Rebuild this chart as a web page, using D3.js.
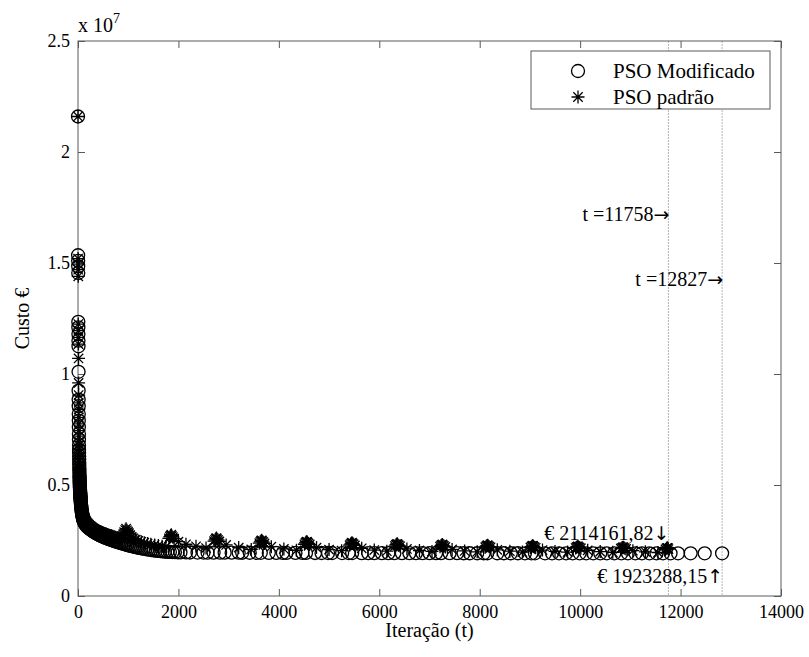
<!DOCTYPE html>
<html>
<head>
<meta charset="utf-8">
<script src="https://cdn.jsdelivr.net/npm/d3@7"></script>
<style>
  body { margin: 0; background: #fff; }
  text { font-family: "Liberation Serif", "Times New Roman", serif; fill: #000; }
</style>
</head>
<body>
<div id="chart"></div>
<script>
// custo em milhoes de euros (x 10^6)
const iterModificado = [0, 2, 3, 4, 5, 6, 7, 8, 9, 10, 11, 12, 13, 14, 15, 16, 17, 18, 19,
  20, 21, 22, 23, 24, 25, 26, 27, 28, 29, 30, 31, 32, 33, 34, 35, 36, 37, 38, 39,
  40, 41, 42, 43, 44, 45, 46, 47, 48, 49, 50, 52, 54, 56, 58, 60, 63, 65, 68, 71,
  74, 77, 80, 84, 87, 91, 95, 100, 105, 110, 115, 122, 130, 137, 145, 152, 160, 170, 180, 190,
  200, 212, 225, 237, 250, 265, 280, 295, 310, 325, 340, 357, 375, 392, 410, 430, 450, 470, 490, 510,
  530, 552, 575, 597, 620, 645, 670, 695, 720, 747, 775, 802, 830, 860, 890, 920, 950, 980, 1010, 1045,
  1080, 1115, 1150, 1185, 1220, 1260, 1300, 1340, 1380, 1420, 1460, 1505, 1550, 1595, 1640, 1685, 1730, 1780, 1830, 1880,
  1930, 1985, 2040, 2150, 2230, 2380, 2500, 2580, 2700, 2830, 2920, 3060, 3200, 3270, 3420, 3560, 3640, 3800, 3950,
  4080, 4150, 4330, 4470, 4540, 4720, 4850, 4980, 5060, 5260, 5390, 5460, 5650, 5780, 5900, 6050, 6180, 6300, 6450, 6600,
  6730, 6860, 7000, 7130, 7230, 7400, 7550, 7680, 7800, 7950, 8080, 8150, 8350, 8480, 8620, 8760, 8900, 9030, 9100, 9300,
  9440, 9580, 9720, 9850, 9990, 10120, 10260, 10400, 10530, 10680, 10820, 10950, 11100, 11230, 11380, 11520, 11650, 11800, 11950, 12200,
  12480, 12827];
const custoModificado = [21.6, 15.35, 15.1, 14.85, 14.55, 12.35, 12.1, 11.8, 11.5, 11.25, 10.1, 9.25, 8.85, 8.55, 8.2, 7.9, 7.6, 7.3, 7.05,
  6.8, 6.6, 6.45, 6.3, 6.15, 6.0, 5.88, 5.76, 5.65, 5.55, 5.45, 5.37, 5.3, 5.22, 5.15, 5.08, 5.02, 4.96, 4.9, 4.85,
  4.8, 4.75, 4.7, 4.66, 4.62, 4.58, 4.54, 4.5, 4.47, 4.43, 4.4, 4.34, 4.28, 4.22, 4.16, 4.11, 4.04, 4.0, 3.93, 3.87,
  3.82, 3.77, 3.72, 3.67, 3.62, 3.58, 3.53, 3.48, 3.44, 3.4, 3.37, 3.33, 3.3, 3.27, 3.24, 3.21, 3.19, 3.16, 3.14, 3.11,
  3.09, 3.06, 3.04, 3.02, 3.0, 2.97, 2.95, 2.92, 2.9, 2.88, 2.86, 2.83, 2.81, 2.79, 2.77, 2.74, 2.72, 2.7, 2.68, 2.66,
  2.64, 2.62, 2.6, 2.58, 2.56, 2.54, 2.52, 2.5, 2.48, 2.46, 2.44, 2.42, 2.4, 2.38, 2.36, 2.34, 2.32, 2.3, 2.28, 2.26,
  2.24, 2.22, 2.2, 2.185, 2.17, 2.15, 2.13, 2.115, 2.1, 2.085, 2.07, 2.055, 2.04, 2.03, 2.02, 2.01, 2.0, 1.99, 1.985, 1.98,
  1.975, 1.97, 1.965, 1.962, 1.96, 1.958, 1.957, 1.955, 1.954, 1.953, 1.952, 1.951, 1.95, 1.949, 1.948, 1.947, 1.946, 1.945, 1.944,
  1.943, 1.942, 1.941, 1.94, 1.939, 1.938, 1.937, 1.937, 1.936, 1.935, 1.934, 1.934, 1.933, 1.932, 1.932, 1.931, 1.931, 1.93, 1.93, 1.929,
  1.929, 1.928, 1.928, 1.928, 1.927, 1.927, 1.927, 1.926, 1.926, 1.926, 1.926, 1.925, 1.925, 1.925, 1.925, 1.925, 1.924, 1.924, 1.924, 1.924,
  1.924, 1.924, 1.924, 1.924, 1.9235, 1.9235, 1.9235, 1.9234, 1.9234, 1.9234, 1.9234, 1.9234, 1.9233, 1.9233, 1.9233, 1.9233, 1.9233, 1.9233, 1.9233, 1.9233,
  1.9233, 1.92328815];

const iterPadrao = [0, 2, 3, 4, 5, 6, 7, 8, 9, 11, 12, 13, 14, 15, 16, 17, 18, 19,
  20, 21, 22, 23, 24, 25, 26, 27, 28, 29, 30, 31, 33, 34, 36, 38, 40, 42, 44, 46,
  48, 50, 53, 55, 58, 61, 64, 67, 70, 73, 77, 81, 85, 89, 94, 99, 104, 110, 115, 121,
  128, 135, 142, 150, 158, 166, 175, 185, 195, 207, 220, 232, 245, 260, 275, 290, 305, 322, 340, 360,
  380, 400, 420, 443, 465, 487, 510, 535, 560, 585, 610, 637, 665, 692, 720, 750, 780, 810, 840, 870,
  900, 920, 940, 958, 975, 995, 1015, 1040, 1070, 1100, 1150, 1200, 1260, 1320, 1385, 1450, 1525, 1600, 1675, 1750,
  1810, 1830, 1845, 1858, 1870, 1890, 1915, 2000, 2150, 2350, 2550,
  2710, 2730, 2745, 2758, 2770, 2790, 2815, 2950, 3200, 3450,
  3610, 3630, 3645, 3658, 3670, 3690, 3715, 3850, 4100, 4350,
  4510, 4530, 4545, 4558, 4570, 4590, 4615, 4750, 5000, 5250,
  5410, 5430, 5445, 5458, 5470, 5490, 5515, 5650, 5900, 6150,
  6310, 6330, 6345, 6358, 6370, 6390, 6415, 6550, 6800, 7050,
  7210, 7230, 7245, 7258, 7270, 7290, 7315, 7450, 7700, 7950,
  8110, 8130, 8145, 8158, 8170, 8190, 8215, 8350, 8600, 8850,
  9010, 9030, 9045, 9058, 9070, 9090, 9115, 9250, 9500, 9750,
  9910, 9930, 9945, 9958, 9970, 9990, 10015, 10150, 10400, 10650,
  10810, 10830, 10845, 10858, 10870, 10890, 10915, 11050, 11300, 11550,
  11700, 11720, 11735, 11748, 11758];
const custoPadrao = [21.6, 15.2, 14.95, 14.7, 14.4, 12.25, 11.95, 11.65, 11.35, 10.7, 9.6, 9.05, 8.7, 8.4, 8.05, 7.75, 7.45, 7.2,
  6.95, 6.78, 6.6, 6.45, 6.3, 6.17, 6.05, 5.93, 5.82, 5.72, 5.62, 5.55, 5.4, 5.33, 5.2, 5.1, 5.0, 4.91, 4.82, 4.74,
  4.67, 4.61, 4.52, 4.46, 4.38, 4.31, 4.24, 4.18, 4.12, 4.06, 4.0, 3.94, 3.88, 3.83, 3.77, 3.72, 3.67, 3.62, 3.58, 3.54,
  3.5, 3.46, 3.43, 3.4, 3.37, 3.34, 3.31, 3.28, 3.26, 3.23, 3.2, 3.17, 3.15, 3.12, 3.1, 3.07, 3.05, 3.02, 3.0, 2.97,
  2.95, 2.93, 2.91, 2.89, 2.87, 2.85, 2.83, 2.81, 2.79, 2.77, 2.75, 2.73, 2.71, 2.69, 2.67, 2.65, 2.63, 2.61, 2.6, 2.58,
  2.78, 2.88, 2.97, 3.03, 2.96, 2.9, 2.83, 2.74, 2.66, 2.6, 2.54, 2.48, 2.44, 2.4, 2.36, 2.33, 2.3, 2.27, 2.24, 2.22,
  2.6, 2.67, 2.72, 2.76, 2.7, 2.65, 2.58, 2.45, 2.33, 2.24, 2.16,
  2.47, 2.53, 2.58, 2.61, 2.56, 2.52, 2.46, 2.3, 2.18, 2.1,
  2.38, 2.44, 2.48, 2.51, 2.47, 2.43, 2.37, 2.22, 2.12, 2.06,
  2.33, 2.39, 2.43, 2.45, 2.41, 2.37, 2.32, 2.18, 2.09, 2.04,
  2.29, 2.34, 2.38, 2.4, 2.36, 2.33, 2.28, 2.15, 2.07, 2.02,
  2.25, 2.3, 2.33, 2.35, 2.31, 2.28, 2.24, 2.12, 2.05, 2.01,
  2.22, 2.27, 2.3, 2.32, 2.28, 2.25, 2.21, 2.1, 2.03, 1.99,
  2.2, 2.24, 2.27, 2.29, 2.25, 2.22, 2.19, 2.08, 2.02, 1.98,
  2.18, 2.22, 2.25, 2.27, 2.23, 2.2, 2.17, 2.07, 2.01, 1.98,
  2.16, 2.2, 2.22, 2.24, 2.2, 2.18, 2.15, 2.06, 2.0, 1.97,
  2.13, 2.16, 2.18, 2.2, 2.17, 2.15, 2.12, 2.04, 1.99, 1.96,
  2.1, 2.15, 2.17, 2.16, 2.11416182];

const seriesNames = ["PSO Modificado", "PSO padrão"];
const xTicks = [0, 2000, 4000, 6000, 8000, 10000, 12000, 14000];
const yTicks = [0, 5e6, 10e6, 15e6, 20e6, 25e6];
const yTickLabels = ["0", "0.5", "1", "1.5", "2", "2.5"];
const marcas = [11758, 12827];
const notas = ["t =11758", "t =12827", "\u20AC 2114161,82", "\u20AC 1923288,15"];
const notasSeta = ["\u2192", "\u2192", "\u2193", "\u2191"];
const notasT = [11758, 12827, 11758, 12827];
const notasCusto = [17.2, 14.3, 2.85, 0.9];

const W = 809, H = 657;
const margin = {top: 41, right: 28, bottom: 61, left: 78};
const width = W - margin.left - margin.right;
const height = H - margin.top - margin.bottom;

const svg = d3.select("#chart").append("svg")
  .attr("width", W).attr("height", H);
const g = svg.append("g")
  .attr("transform", `translate(${margin.left},${margin.top})`);

const x = d3.scaleLinear().domain([0, 14000]).range([0, width]);
const y = d3.scaleLinear().domain([0, 25e6]).range([height, 0]);

const dadosMod = iterModificado.map((t, i) => ({t: t, v: custoModificado[i] * 1e6}));
const dadosPad = iterPadrao.map((t, i) => ({t: t, v: custoPadrao[i] * 1e6}));

// linhas verticais pontilhadas
g.selectAll(".marca").data(marcas).join("line")
  .attr("x1", d => x(d)).attr("x2", d => x(d))
  .attr("y1", 0).attr("y2", height)
  .attr("stroke", "#b4b4b4").attr("stroke-width", 1)
  .attr("stroke-dasharray", "2,1");

// eixos
const frameColor = "#5a5a5a";
function styleAxis(sel) {
  sel.select(".domain").remove();
  sel.selectAll(".tick line").attr("stroke", frameColor);
  sel.selectAll(".tick text").style("font-size", "18px").attr("fill", "#000");
}
g.append("g").attr("transform", `translate(0,${height})`)
  .call(d3.axisBottom(x).tickValues(xTicks).tickSize(-7).tickPadding(9).tickFormat(d3.format("d")))
  .call(styleAxis);
g.append("g")
  .call(d3.axisTop(x).tickValues(xTicks).tickSize(-7).tickFormat(""))
  .call(styleAxis);
g.append("g")
  .call(d3.axisLeft(y).tickValues(yTicks).tickSize(-7).tickPadding(8).tickFormat((d, i) => yTickLabels[i]))
  .call(styleAxis);
g.append("g").attr("transform", `translate(${width},0)`)
  .call(d3.axisRight(y).tickValues(yTicks).tickSize(-7).tickFormat(""))
  .call(styleAxis);

g.append("rect")
  .attr("width", width).attr("height", height)
  .attr("fill", "none").attr("stroke", frameColor).attr("stroke-width", 1);

// marcadores
const rc = 6.5;
const mkStroke = 1.3;
const starPath = (r) => {
  const d = r * 0.72;
  return `M0,${-r}L0,${r}M${-r},0L${r},0M${-d},${-d}L${d},${d}M${-d},${d}L${d},${-d}`;
};

g.append("g").selectAll("circle").data(dadosMod).join("circle")
  .attr("cx", d => x(d.t)).attr("cy", d => y(d.v)).attr("r", rc)
  .attr("fill", "none").attr("stroke", "#000").attr("stroke-width", mkStroke);

g.append("g").selectAll("path").data(dadosPad).join("path")
  .attr("transform", d => `translate(${x(d.t)},${y(d.v)})`)
  .attr("d", starPath(6.5))
  .attr("fill", "none").attr("stroke", "#000").attr("stroke-width", mkStroke);

// anotacoes
const notaSel = g.selectAll(".nota").data(notas).join("text")
  .attr("x", (d, i) => x(notasT[i]) + 1)
  .attr("y", (d, i) => y(notasCusto[i] * 1e6))
  .attr("text-anchor", "end")
  .attr("dominant-baseline", "central")
  .style("font-size", "20px");
notaSel.append("tspan").text(d => d);
notaSel.append("tspan")
  .style("font-family", "'DejaVu Sans'")
  .style("font-size", "19px")
  .text((d, i) => notasSeta[i]);

// multiplicador do eixo y
const mult = svg.append("text")
  .attr("x", margin.left).attr("y", 32)
  .style("font-size", "20px");
mult.append("tspan").text("x 10");
mult.append("tspan").attr("dy", -9).style("font-size", "14px").text("7");

// rotulos
svg.append("text")
  .attr("x", margin.left + width / 2).attr("y", 637)
  .attr("text-anchor", "middle").style("font-size", "20px")
  .text("Iteração (t)");
svg.append("text")
  .attr("transform", `translate(29,${margin.top + height / 2}) rotate(-90)`)
  .attr("text-anchor", "middle").style("font-size", "20px")
  .text("Custo \u20AC");

// legenda
const leg = svg.append("g").attr("transform", "translate(531,51)");
leg.append("rect").attr("width", 239).attr("height", 58)
  .attr("fill", "#fff").attr("stroke", frameColor).attr("stroke-width", 1);
leg.append("circle").attr("cx", 47).attr("cy", 20).attr("r", rc)
  .attr("fill", "none").attr("stroke", "#000").attr("stroke-width", mkStroke);
leg.append("path").attr("transform", "translate(47,46)").attr("d", starPath(6.5))
  .attr("fill", "none").attr("stroke", "#000").attr("stroke-width", mkStroke);
leg.selectAll(".lt").data(seriesNames).join("text")
  .attr("x", 82).attr("y", (d, i) => 20 + i * 26)
  .attr("dominant-baseline", "central")
  .style("font-size", "21px")
  .text(d => d);
</script>
</body>
</html>
